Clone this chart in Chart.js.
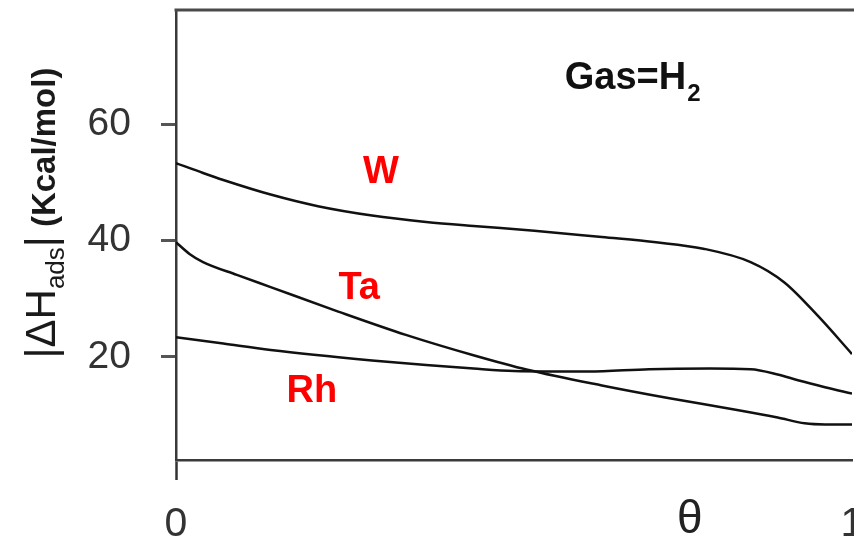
<!DOCTYPE html>
<html>
<head>
<meta charset="utf-8">
<script src="https://cdn.jsdelivr.net/npm/chart.js@4.4.1/dist/chart.umd.min.js"></script>
<style>
  html, body { margin: 0; padding: 0; background: #fff; overflow: hidden; }
  #wrap { width: 854px; height: 543px; overflow: hidden; }
</style>
</head>
<body>
<div id="wrap"><canvas id="heatChart" width="900" height="543"></canvas></div>
<script>
// coverage (theta) and |dH_ads| in kcal/mol
const wTheta = [0, 0.04, 0.07, 0.14, 0.21, 0.29, 0.37, 0.44, 0.53, 0.63, 0.71, 0.78, 0.85, 0.90, 0.95, 1.0];
const wHeat  = [53.3, 51.6, 50.4, 47.9, 45.9, 44.3, 43.2, 42.5, 41.7, 40.6, 39.7, 38.6, 36.3, 32.8, 27.0, 20.5];

const taTheta = [0, 0.02, 0.04, 0.09, 0.14, 0.24, 0.34, 0.44, 0.52, 0.63, 0.73, 0.83, 0.89, 0.93, 0.96, 1.0];
const taHeat  = [39.7, 37.7, 36.3, 34.1, 32.0, 27.8, 23.8, 20.3, 17.8, 15.1, 12.9, 10.9, 9.6, 8.6, 8.4, 8.4];

const rhTheta = [0, 0.07, 0.14, 0.29, 0.37, 0.44, 0.50, 0.61, 0.70, 0.79, 0.85, 0.89, 0.92, 0.96, 1.0];
const rhHeat  = [23.4, 22.3, 21.2, 19.4, 18.6, 18.0, 17.6, 17.5, 17.9, 18.0, 17.9, 17.0, 16.0, 14.8, 13.7];

const metals = ['W', 'Ta', 'Rh'];
const yTicks = [20, 40, 60];
const xTicks = [0, 1];

const FONT = '"Liberation Sans", Arial, sans-serif';

const toPoints = (xs, ys) => xs.map((t, i) => ({ x: t, y: ys[i] }));

// where the red metal names sit, in data units
const nameSpots = [[0.303, 51.7], [0.271, 31.8], [0.201, 14.1]];

const figureText = {
  id: 'figureText',
  afterDraw(chart) {
    const { ctx, chartArea, scales: { x, y } } = chart;
    ctx.save();

    // top edge of the frame
    ctx.strokeStyle = '#4a4a4a';
    ctx.lineWidth = 3;
    ctx.beginPath();
    ctx.moveTo(chartArea.left - 1.5, chartArea.top);
    ctx.lineTo(chartArea.right + 20, chartArea.top);
    ctx.stroke();

    // metal names
    ctx.fillStyle = '#ff0000';
    ctx.font = 'bold 38px ' + FONT;
    ctx.textAlign = 'center';
    ctx.textBaseline = 'middle';
    nameSpots.forEach((p, i) => {
      ctx.fillText(metals[i], x.getPixelForValue(p[0]), y.getPixelForValue(p[1]));
    });

    // Gas=H2
    ctx.fillStyle = '#111';
    ctx.textAlign = 'left';
    ctx.textBaseline = 'alphabetic';
    ctx.font = 'bold 38px ' + FONT;
    const gx = x.getPixelForValue(0.575);
    const gy = y.getPixelForValue(66.0);
    ctx.fillText('Gas=H', gx, gy);
    const gw = ctx.measureText('Gas=H').width;
    ctx.font = 'bold 24px ' + FONT;
    ctx.fillText('2', gx + gw + 1, gy + 12);

    // theta under the axis
    ctx.fillStyle = '#222';
    ctx.font = '46px ' + FONT;
    ctx.textAlign = 'center';
    ctx.textBaseline = 'middle';
    ctx.fillText('θ', x.getPixelForValue(0.76), chartArea.bottom + 60);

    // y axis title, rotated
    const parts = [
      ['|', '42px ' + FONT, 0],
      ['ΔH', '42px ' + FONT, 0],
      ['ads', '26px ' + FONT, 9],
      ['|', '42px ' + FONT, 0],
      [' (Kcal/mol)', 'bold 33px ' + FONT, 0]
    ];
    let total = 0;
    parts.forEach(p => { ctx.font = p[1]; total += ctx.measureText(p[0]).width; });
    ctx.fillStyle = '#1a1a1a';
    ctx.translate(55, 213);
    ctx.rotate(-Math.PI / 2);
    ctx.textAlign = 'left';
    ctx.textBaseline = 'alphabetic';
    let pos = -total / 2;
    parts.forEach(p => {
      ctx.font = p[1];
      ctx.fillText(p[0], pos, p[2]);
      pos += ctx.measureText(p[0]).width;
    });
    ctx.restore();
  }
};

const lineStyle = {
  borderColor: '#111',
  borderWidth: 2.5,
  pointRadius: 0,
  fill: false,
  cubicInterpolationMode: 'monotone'
};

new Chart(document.getElementById('heatChart'), {
  type: 'line',
  data: {
    datasets: [
      { label: metals[0], data: toPoints(wTheta, wHeat), ...lineStyle },
      { label: metals[1], data: toPoints(taTheta, taHeat), ...lineStyle },
      { label: metals[2], data: toPoints(rhTheta, rhHeat), ...lineStyle }
    ]
  },
  options: {
    responsive: false,
    animation: false,
    events: [],
    layout: { padding: { top: 10, right: 48, left: 0, bottom: 0 } },
    plugins: { legend: { display: false }, tooltip: { enabled: false } },
    scales: {
      x: {
        type: 'linear',
        min: 0,
        max: 1,
        afterBuildTicks: s => { s.ticks = xTicks.map(v => ({ value: v })); },
        afterFit: s => { s.height = 83; s.paddingLeft = 0; s.paddingRight = 0; },
        border: { display: true, color: '#3a3a3a', width: 2.5 },
        grid: {
          drawOnChartArea: false,
          drawTicks: true,
          tickLength: 20,
          tickWidth: 2.5,
          tickColor: c => (c.index === 0 ? '#333' : 'rgba(0,0,0,0)')
        },
        ticks: {
          color: '#333',
          padding: 20,
          maxRotation: 0,
          font: { family: FONT, size: 41 },
          callback: v => String(v)
        }
      },
      y: {
        min: 2.3,
        max: 79.6,
        afterBuildTicks: s => { s.ticks = yTicks.map(v => ({ value: v })); },
        afterFit: s => { s.width = 176; s.paddingTop = 0; s.paddingBottom = 0; },
        border: { display: true, color: '#3a3a3a', width: 2.5 },
        grid: {
          drawOnChartArea: false,
          drawTicks: true,
          tickLength: 15,
          tickWidth: 3,
          tickColor: '#555'
        },
        ticks: {
          color: '#333',
          padding: 30,
          font: { family: FONT, size: 39 },
          callback: v => String(v)
        }
      }
    }
  },
  plugins: [figureText]
});
</script>
</body>
</html>
